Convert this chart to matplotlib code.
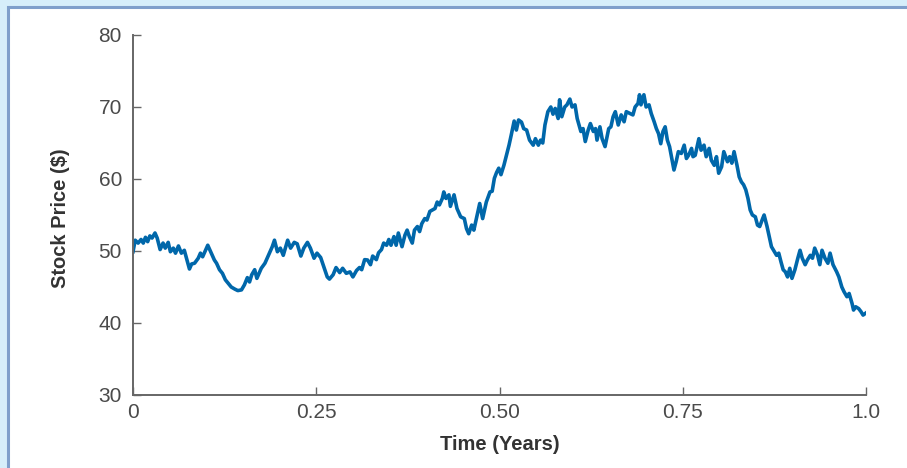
import matplotlib
matplotlib.use("Agg")
import matplotlib.pyplot as plt
from matplotlib.patches import Rectangle

# simulated stock price path
years = [
    0.000, 0.003, 0.007, 0.011, 0.014, 0.017, 0.020, 0.023, 0.026, 0.030,
    0.033, 0.037, 0.041, 0.044, 0.048, 0.051, 0.055, 0.058, 0.062, 0.066,
    0.070, 0.073, 0.077, 0.080, 0.084, 0.089, 0.092, 0.095, 0.099, 0.102,
    0.106, 0.111, 0.114, 0.118, 0.122, 0.126, 0.130, 0.134, 0.139, 0.143,
    0.148, 0.152, 0.156, 0.159, 0.162, 0.166, 0.169, 0.172, 0.175, 0.180,
    0.183, 0.186, 0.190, 0.193, 0.197, 0.201, 0.205, 0.211, 0.215, 0.220,
    0.224, 0.229, 0.233, 0.238, 0.242, 0.247, 0.251, 0.256, 0.261, 0.265,
    0.268, 0.273, 0.277, 0.282, 0.286, 0.291, 0.296, 0.300, 0.305, 0.309,
    0.312, 0.316, 0.320, 0.324, 0.327, 0.332, 0.335, 0.339, 0.342, 0.346,
    0.349, 0.352, 0.356, 0.359, 0.362, 0.367, 0.371, 0.374, 0.377, 0.381,
    0.384, 0.388, 0.391, 0.394, 0.398, 0.401, 0.405, 0.412, 0.415, 0.418,
    0.422, 0.424, 0.427, 0.431, 0.433, 0.438, 0.442, 0.447, 0.452, 0.455,
    0.458, 0.462, 0.465, 0.468, 0.473, 0.477, 0.482, 0.487, 0.490, 0.493,
    0.496, 0.499, 0.502, 0.506, 0.509, 0.513, 0.516, 0.520, 0.523, 0.526,
    0.530, 0.533, 0.537, 0.541, 0.546, 0.549, 0.553, 0.556, 0.559, 0.562,
    0.566, 0.570, 0.573, 0.576, 0.580, 0.582, 0.585, 0.589, 0.592, 0.596,
    0.599, 0.603, 0.606, 0.611, 0.614, 0.617, 0.621, 0.624, 0.628, 0.631,
    0.633, 0.637, 0.640, 0.644, 0.649, 0.652, 0.655, 0.658, 0.662, 0.666,
    0.670, 0.673, 0.678, 0.682, 0.685, 0.689, 0.691, 0.693, 0.697, 0.700,
    0.704, 0.707, 0.711, 0.714, 0.717, 0.720, 0.723, 0.726, 0.729, 0.732,
    0.735, 0.738, 0.741, 0.744, 0.748, 0.752, 0.755, 0.758, 0.762, 0.764,
    0.767, 0.772, 0.775, 0.779, 0.782, 0.786, 0.789, 0.793, 0.796, 0.799,
    0.803, 0.806, 0.811, 0.814, 0.817, 0.820, 0.824, 0.827, 0.830, 0.833,
    0.836, 0.839, 0.842, 0.845, 0.849, 0.852, 0.855, 0.859, 0.861, 0.865,
    0.868, 0.871, 0.875, 0.878, 0.881, 0.884, 0.887, 0.890, 0.893, 0.896,
    0.899, 0.903, 0.907, 0.910, 0.913, 0.917, 0.920, 0.924, 0.927, 0.930,
    0.934, 0.937, 0.940, 0.944, 0.948, 0.951, 0.955, 0.960, 0.963, 0.967,
    0.970, 0.974, 0.977, 0.981, 0.983, 0.986, 0.990, 0.993, 0.996, 1.000,
]
price = [
    49.9, 51.5, 51.1, 51.6, 51.1, 51.9, 51.3, 52.1, 51.8, 52.5,
    51.8, 50.2, 51.1, 50.4, 51.2, 49.9, 50.4, 49.7, 50.7, 49.7,
    50.1, 49.0, 47.5, 48.2, 48.3, 49.0, 49.7, 49.2, 50.1, 50.8,
    49.9, 48.75, 48.3, 47.4, 46.9, 46.0, 45.5, 45.0, 44.7, 44.5,
    44.6, 45.3, 46.3, 45.7, 46.7, 47.4, 46.2, 46.9, 47.6, 48.3,
    49.0, 49.7, 50.6, 51.5, 49.9, 50.4, 49.4, 51.5, 50.4, 51.2,
    51.0, 49.3, 50.4, 51.2, 50.4, 49.0, 49.7, 49.1, 47.6, 46.4,
    46.1, 46.7, 47.7, 47.0, 47.6, 46.9, 47.1, 46.4, 47.3, 47.7,
    47.4, 48.8, 48.75, 48.1, 49.3, 48.8, 49.75, 50.2, 51.1, 50.8,
    51.6, 50.8, 52.0, 50.8, 52.5, 50.6, 52.2, 52.9, 52.0, 51.1,
    52.9, 53.4, 52.7, 53.8, 54.5, 54.3, 55.5, 55.9, 56.8, 56.4,
    57.3, 58.2, 57.3, 57.8, 56.2, 57.8, 55.9, 54.75, 54.5, 53.1,
    52.4, 53.6, 52.9, 54.3, 56.6, 54.5, 56.8, 58.2, 58.3, 60.1,
    60.9, 61.5, 60.6, 61.9, 63.1, 64.7, 66.1, 68.05, 66.8, 68.2,
    67.9, 67.0, 66.8, 65.4, 64.7, 65.6, 64.7, 65.4, 65.0, 67.5,
    69.35, 70.0, 69.0, 69.8, 68.4, 71.0, 68.65, 70.0, 70.3, 71.1,
    70.0, 70.3, 68.4, 66.6, 67.0, 65.2, 66.8, 67.7, 66.6, 67.0,
    65.4, 67.25, 65.6, 64.5, 67.0, 67.25, 68.65, 69.35, 67.5, 68.9,
    67.95, 69.35, 69.1, 68.9, 70.0, 70.5, 71.7, 70.3, 71.7, 70.0,
    70.3, 69.1, 67.95, 67.0, 66.3, 64.9, 66.6, 67.25, 65.4, 64.5,
    62.85, 61.25, 62.4, 63.8, 63.55, 64.7, 62.85, 63.3, 64.25, 63.1,
    63.3, 65.6, 64.0, 64.7, 63.1, 64.25, 62.6, 61.9, 63.1, 60.8,
    61.7, 63.8, 62.4, 63.1, 62.2, 63.8, 61.9, 60.3, 59.6, 59.2,
    58.5, 57.3, 55.7, 55.0, 54.75, 53.6, 53.4, 54.5, 55.0, 53.4,
    52.0, 50.6, 49.9, 49.4, 49.7, 48.5, 47.4, 47.1, 46.4, 47.6,
    46.2, 47.4, 49.0, 50.1, 49.0, 48.1, 48.75, 49.4, 49.0, 50.4,
    49.4, 48.1, 50.1, 49.0, 48.3, 49.7, 48.1, 47.1, 46.4, 45.0,
    44.35, 43.65, 44.1, 42.7, 41.8, 42.25, 42.0, 41.6, 41.1, 41.4,
]

x_ticks = [0, 0.25, 0.5, 0.75, 1.0]
x_labels = ["0", "0.25", "0.50", "0.75", "1.0"]
y_ticks = [30, 40, 50, 60, 70, 80]

W, H = 907, 468
fig = plt.figure(figsize=(W / 100, H / 100), dpi=100, facecolor="#d6eefa")
# white panel with blue-gray border on the top and left, kept behind the axes
panel = Rectangle((8 / W, -0.01), 1.0, 1 - 7 / H + 0.01,
                  transform=fig.transFigure, facecolor="white",
                  edgecolor="#7f9fcb", linewidth=2.2, zorder=-10)
fig.patches.append(panel)

ax = fig.add_axes([133 / W, 1 - 395 / H, (866 - 133) / W, (395 - 35) / H])
ax.set_zorder(5)
ax.set_facecolor("none")
ax.plot(years, price, color="#0067aa", linewidth=2.6, solid_joinstyle="round")

ax.set_xlim(0, 1.0)
ax.set_ylim(30, 80)
ax.set_xticks(x_ticks)
ax.set_xticklabels(x_labels)
ax.set_yticks(y_ticks)

for side in ("top", "right"):
    ax.spines[side].set_visible(False)
for side in ("left", "bottom"):
    ax.spines[side].set_color("#666666")
    ax.spines[side].set_linewidth(1.4)

fam = ["Liberation Sans", "DejaVu Sans"]
ax.tick_params(direction="in", length=6, width=1.0, color="#666666",
               labelcolor="#4a4a4a", labelsize=15)
ax.tick_params(axis="y", pad=8)
ax.tick_params(axis="x", pad=6)
for lab in ax.get_xticklabels() + ax.get_yticklabels():
    lab.set_family(fam)

ax.set_xlabel("Time (Years)", fontsize=14.5, fontweight="bold", color="#333333",
              family=fam, labelpad=9)
ax.set_ylabel("Stock Price ($)", fontsize=14.5, fontweight="bold", color="#333333",
              family=fam)
ax.yaxis.set_label_coords(-(133 - 70) / (866 - 133), 0.49)

fig.savefig("out.png", dpi=100, facecolor=fig.get_facecolor())
